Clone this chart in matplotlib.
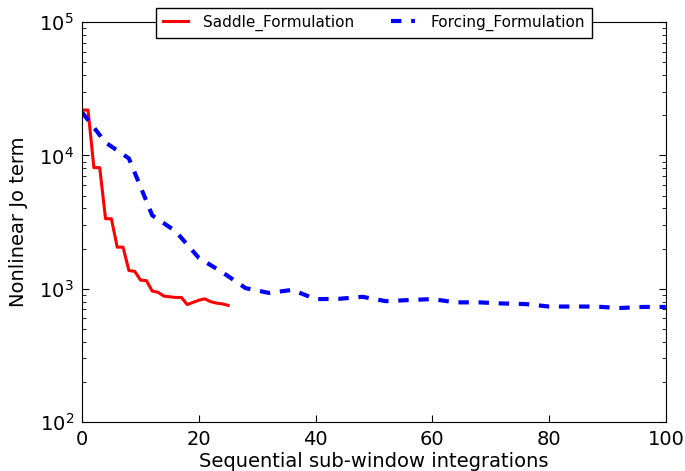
import numpy as np
import matplotlib
matplotlib.use("Agg")
import matplotlib.pyplot as plt

# saddle formulation, one value per sub-window
saddle_x = list(range(26))
saddle_y = [21900, 21900, 8100, 8100, 3350, 3350, 2050, 2050, 1370, 1350,
            1160, 1150, 960, 940, 880, 870, 860, 860, 760, 790,
            820, 840, 800, 780, 770, 750]

# forcing formulation, every 4 sub-windows
forcing_x = list(range(0, 101, 4))
forcing_y = [21000, 12500, 9500, 3550, 2700, 1700, 1330, 1010, 930, 980,
             835, 840, 870, 807, 822, 836, 790, 790, 775, 767,
             735, 735, 735, 716, 730, 730]

plt.rcParams['lines.scale_dashes'] = False

fig = plt.figure(figsize=(6.85, 4.71), dpi=100, facecolor="w")
ax = fig.add_axes([0.12, 0.104, 0.852, 0.849])

ax.plot(saddle_x, saddle_y, color="red", lw=2.2, label="Saddle_Formulation")
ax.plot(forcing_x, forcing_y, color="blue", lw=3, dashes=(7.5, 7),
        label="Forcing_Formulation")

ax.set_yscale("log")
ax.set_xlim(0, 100)
ax.set_ylim(1e2, 1e5)
ax.tick_params(which="both", direction="in", top=True, right=True,
               labelsize=14, pad=6)
ax.tick_params(which="major", length=5)
ax.tick_params(which="minor", length=3)
ax.set_xticks([0, 20, 40, 60, 80, 100])

ax.set_xlabel("Sequential sub-window integrations", fontsize=14, labelpad=2)
ax.set_ylabel("Nonlinear Jo term", fontsize=14, labelpad=8)

leg = ax.legend(loc="upper center", bbox_to_anchor=(0.5, 1.055), ncol=2,
                fontsize=11, fancybox=False, framealpha=1, edgecolor="k",
                borderpad=0.45, columnspacing=2.4, handlelength=1.6,
                handletextpad=1.0)
leg.get_frame().set_linewidth(1)

fig.savefig("out.png", dpi=100)
